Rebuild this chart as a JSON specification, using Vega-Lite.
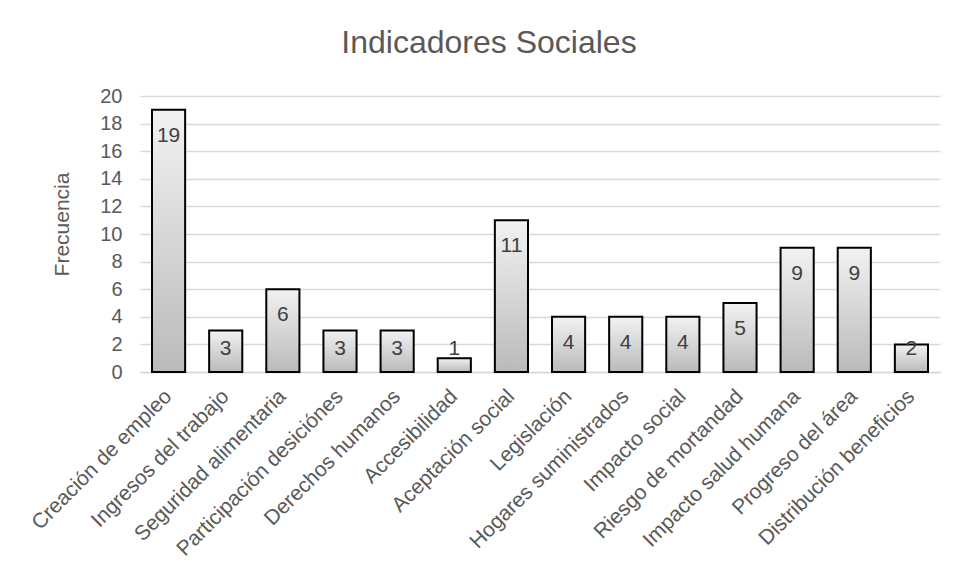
{
  "$schema": "https://vega.github.io/schema/vega-lite/v6.json",
  "width": 800,
  "height": 276,
  "autosize": {"type": "none"},
  "padding": {"left": 140, "top": 96, "right": 21, "bottom": 207},
  "background": "white",
  "title": {
    "text": "Indicadores Sociales",
    "font": "Liberation Sans",
    "fontSize": 32,
    "fontWeight": "normal",
    "color": "#595959",
    "anchor": "middle",
    "dx": -51,
    "offset": 26
  },
  "config": {
    "view": {"stroke": null},
    "font": "Liberation Sans"
  },
  "data": {
    "values": [
      {"indicador": "Creación de empleo", "frecuencia": 19},
      {"indicador": "Ingresos del trabajo", "frecuencia": 3},
      {"indicador": "Seguridad alimentaria", "frecuencia": 6},
      {"indicador": "Participación desiciónes", "frecuencia": 3},
      {"indicador": "Derechos humanos", "frecuencia": 3},
      {"indicador": "Accesibilidad", "frecuencia": 1},
      {"indicador": "Aceptación social", "frecuencia": 11},
      {"indicador": "Legislación", "frecuencia": 4},
      {"indicador": "Hogares suministrados", "frecuencia": 4},
      {"indicador": "Impacto social", "frecuencia": 4},
      {"indicador": "Riesgo de mortandad", "frecuencia": 5},
      {"indicador": "Impacto salud humana", "frecuencia": 9},
      {"indicador": "Progreso del área", "frecuencia": 9},
      {"indicador": "Distribución beneficios", "frecuencia": 2}
    ]
  },
  "encoding": {
    "x": {
      "field": "indicador",
      "type": "nominal",
      "sort": null,
      "scale": {"paddingInner": 0.42, "paddingOuter": 0.21},
      "axis": {
        "title": null,
        "labelAngle": -45,
        "labelAlign": "right",
        "labelBaseline": "middle",
        "labelFont": "Liberation Sans",
        "labelFontSize": 21,
        "labelColor": "#595959",
        "labelPadding": 21,
        "ticks": false,
        "domainColor": "#d9d9d9",
        "domainWidth": 1.5,
        "labelLimit": 400
      }
    },
    "y": {
      "field": "frecuencia",
      "type": "quantitative",
      "scale": {"domain": [0, 20]},
      "axis": {
        "title": "Frecuencia",
        "titleFont": "Liberation Sans",
        "titleFontSize": 21,
        "titleFontWeight": "normal",
        "titleColor": "#595959",
        "titleX": -78,
        "titleY": 128,
        "titleAngle": -90,
        "titleAlign": "center",
        "titleBaseline": "middle",
        "values": [0, 2, 4, 6, 8, 10, 12, 14, 16, 18, 20],
        "labelFont": "Liberation Sans",
        "labelFontSize": 20,
        "labelColor": "#595959",
        "labelPadding": 18,
        "ticks": false,
        "domain": false,
        "grid": true,
        "gridColor": "#d9d9d9",
        "gridWidth": 1.5
      }
    }
  },
  "layer": [
    {
      "mark": {
        "type": "bar",
        "stroke": "black",
        "strokeWidth": 2,
        "fill": {
          "gradient": "linear",
          "x1": 0, "y1": 0, "x2": 0, "y2": 1,
          "stops": [
            {"offset": 0, "color": "#f2f2f2"},
            {"offset": 1, "color": "#bababa"}
          ]
        }
      }
    },
    {
      "transform": [{"filter": "datum.frecuencia >= 4"}],
      "mark": {
        "type": "text",
        "baseline": "top",
        "dy": 15,
        "fontSize": 21,
        "font": "Liberation Sans",
        "color": "#404040"
      },
      "encoding": {"text": {"field": "frecuencia", "type": "quantitative"}}
    },
    {
      "transform": [{"filter": "datum.frecuencia < 4"}],
      "mark": {
        "type": "text",
        "baseline": "alphabetic",
        "dy": -17,
        "fontSize": 21,
        "font": "Liberation Sans",
        "color": "#404040"
      },
      "encoding": {
        "y": {"datum": 0},
        "text": {"field": "frecuencia", "type": "quantitative"}
      }
    }
  ]
}
